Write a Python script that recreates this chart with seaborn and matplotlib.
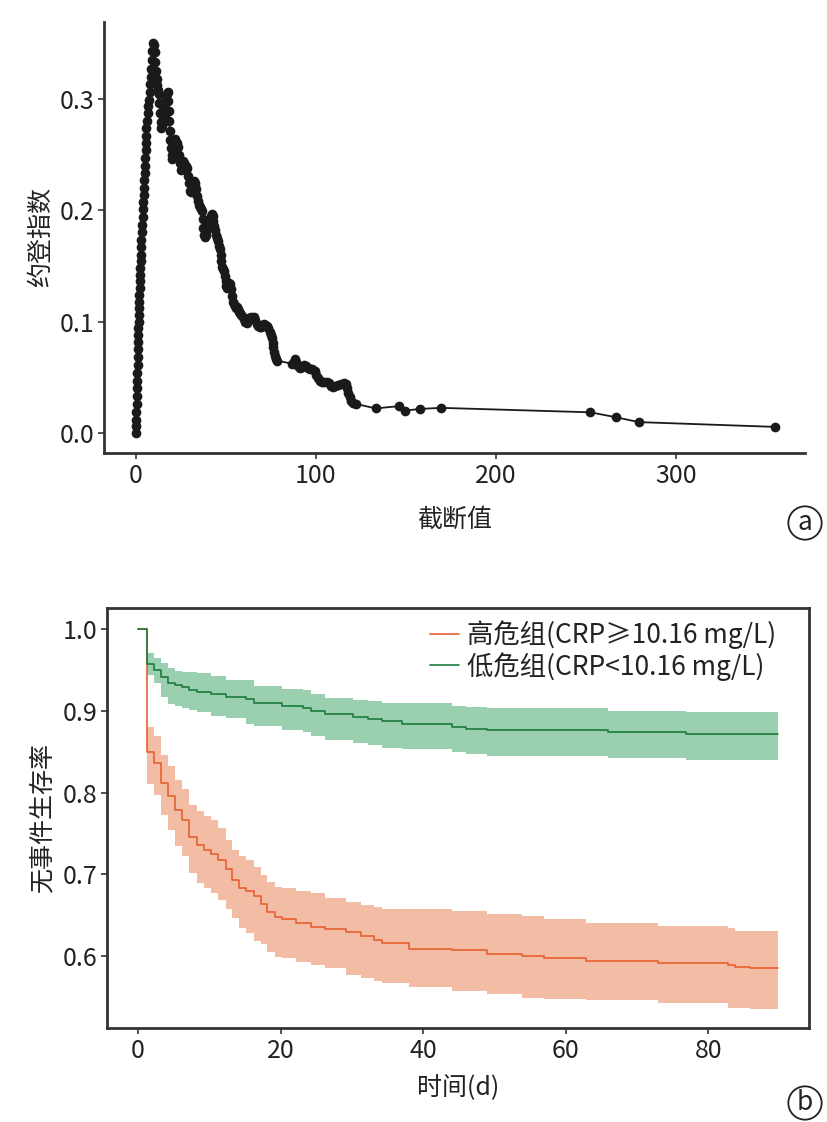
import numpy as np
import pandas as pd
import seaborn as sns
import matplotlib.pyplot as plt

# ---- panel a: Youden index vs cut-off ----
cutoff = [0.0, 0.0, 0.1, 0.2, 0.3, 0.4, 0.5, 0.6, 0.7, 0.8, 0.9, 1.0, 1.1, 1.2, 1.3, 1.4,
          1.52, 1.64, 1.76, 1.88, 2.0, 2.12, 2.24, 2.36, 2.48, 2.6, 2.8, 3.0, 3.2, 3.4, 3.6,
          3.8, 4.0, 4.2, 4.4, 4.57, 4.74, 4.91, 5.08, 5.25, 5.42, 5.59, 5.76, 5.9, 6.4, 6.9,
          7.3, 7.6, 7.9, 8.2, 8.5, 8.8, 9.1, 9.4, 9.7,
          10.3, 10.7, 11.1, 11.5, 11.9, 12.3, 12.7, 13.0, 13.3, 13.6, 13.9, 14.3, 14.7, 15.1,
          15.5, 15.9, 16.3, 16.7, 17.1, 17.5, 17.8, 18.1, 18.4, 18.7, 19.0, 19.4, 19.8, 20.2,
          20.6, 21.0, 21.5, 22.0, 22.5, 23.0, 23.5, 24.0, 24.5, 25.0, 25.5, 26.0, 26.5, 27.0,
          27.5, 28.0, 28.5, 29.0, 29.5, 30.0, 30.5, 31.0, 31.5, 32.0, 32.5, 33.0, 33.5, 34.0,
          34.5, 35.0, 35.5, 36.0, 36.5, 37.0, 37.4, 37.8, 38.2, 38.6, 39.0, 39.5, 40.0, 40.5,
          41.0, 41.5, 42.0, 42.5, 43.0, 43.5, 44.0, 44.5, 45.0, 45.5, 46.0, 46.5, 47.0, 47.4,
          47.8, 48.2, 48.7, 49.2, 49.7, 50.2, 50.7, 51.2, 51.7, 52.2, 52.7, 53.2, 53.7, 54.2,
          54.8, 55.4, 56.0, 56.6, 57.2, 57.8, 58.5, 59.2, 59.9, 60.6, 61.4, 62.2, 63.0, 63.8,
          64.6, 65.4, 66.2, 67.0, 67.8, 68.6, 69.4, 70.2, 71.0, 71.8, 72.6, 73.4, 74.2, 74.9,
          75.5, 75.9, 76.3, 76.7, 77.2, 77.7, 78.3,
          86.9, 87.6, 88.3, 88.9, 89.5, 90.3, 91.3, 92.3, 93.3, 94.3, 95.3, 96.5, 98.0, 99.2,
          100.2, 101.0, 102.0, 103.3, 104.6, 106.0, 107.4, 108.3, 109.3, 110.7, 112.3, 114.0,
          115.6, 116.7, 117.4, 118.0, 118.6, 119.3, 120.5, 122.3, 133.1, 146.0, 149.4, 157.5,
          169.3, 252.4, 266.6, 279.3, 355.1]
youden = [0.000, 0.006, 0.012, 0.019, 0.026, 0.033, 0.040, 0.047, 0.054, 0.061, 0.068, 0.075,
          0.082, 0.088, 0.094, 0.100, 0.106, 0.112, 0.118, 0.124, 0.130, 0.136, 0.142, 0.148,
          0.154, 0.160, 0.167, 0.173, 0.180, 0.187, 0.194, 0.201, 0.207, 0.214, 0.220, 0.227,
          0.233, 0.240, 0.247, 0.254, 0.260, 0.267, 0.274, 0.280, 0.287, 0.294, 0.299, 0.306,
          0.313, 0.320, 0.327, 0.335, 0.343, 0.350, 0.348,
          0.342, 0.333, 0.325, 0.318, 0.312, 0.308, 0.304, 0.296, 0.287, 0.279, 0.274, 0.276,
          0.279, 0.281, 0.283, 0.286, 0.292, 0.299, 0.304, 0.306, 0.298, 0.289, 0.280, 0.271,
          0.263, 0.256, 0.250, 0.246, 0.253, 0.260, 0.264, 0.261, 0.258, 0.260, 0.257, 0.250,
          0.242, 0.236, 0.240, 0.244, 0.242, 0.238, 0.236, 0.240, 0.238, 0.231, 0.224, 0.217,
          0.216, 0.220, 0.224, 0.226, 0.224, 0.222, 0.219, 0.213, 0.208, 0.205, 0.203, 0.201,
          0.199, 0.192, 0.184, 0.178, 0.176, 0.178, 0.181, 0.184, 0.186, 0.188, 0.191, 0.195,
          0.197, 0.195, 0.190, 0.186, 0.182, 0.178, 0.175, 0.172, 0.168, 0.165, 0.160, 0.154,
          0.149, 0.147, 0.145, 0.141, 0.136, 0.132, 0.130, 0.132, 0.135, 0.134, 0.129, 0.123,
          0.118, 0.116, 0.114, 0.112, 0.113, 0.111, 0.109, 0.108, 0.106, 0.104, 0.102, 0.100,
          0.099, 0.101, 0.103, 0.104, 0.103, 0.104, 0.101, 0.098, 0.096, 0.095, 0.095, 0.097,
          0.098, 0.097, 0.096, 0.094, 0.091, 0.088, 0.085, 0.081, 0.077, 0.073, 0.069, 0.066,
          0.065,
          0.062, 0.064, 0.066, 0.064, 0.061, 0.059, 0.058, 0.059, 0.061, 0.060, 0.058, 0.057,
          0.057, 0.056, 0.052, 0.049, 0.047, 0.046, 0.046, 0.046, 0.045, 0.042, 0.041, 0.042,
          0.043, 0.044, 0.045, 0.044, 0.040, 0.036, 0.032, 0.029, 0.027, 0.026, 0.022, 0.024,
          0.020, 0.0215, 0.0225, 0.0185, 0.0141, 0.0097, 0.0054]

# ---- panel b: Kaplan-Meier curves with confidence bands ----
high_t = [0, 1.2, 2.2, 3.2, 4.2, 5.2, 6.2, 7.2, 8.3, 9.2, 10.2, 11.2, 12.3, 13.2, 14.2, 15.2,
          16.2, 17.2, 18.1, 19.2, 20.2, 22.2, 24.2, 26.2, 29.2, 31.3, 33.1, 34.2, 38.0, 44.0,
          49.0, 53.9, 57.0, 62.9, 73.0, 82.8, 83.7, 85.8, 89.8]
high_s = [1.0, 0.849, 0.836, 0.812, 0.796, 0.779, 0.766, 0.745, 0.736, 0.730, 0.725, 0.717,
          0.706, 0.693, 0.683, 0.679, 0.673, 0.664, 0.654, 0.648, 0.645, 0.640, 0.636, 0.633,
          0.630, 0.624, 0.620, 0.616, 0.609, 0.607, 0.603, 0.600, 0.597, 0.594, 0.592, 0.589,
          0.587, 0.585, 0.585]
high_hi = [1.0, 0.880, 0.869, 0.846, 0.832, 0.815, 0.804, 0.785, 0.777, 0.771, 0.766, 0.757,
           0.742, 0.730, 0.722, 0.717, 0.709, 0.699, 0.691, 0.685, 0.683, 0.679, 0.677, 0.671,
           0.666, 0.662, 0.660, 0.658, 0.658, 0.655, 0.652, 0.649, 0.645, 0.641, 0.637, 0.634,
           0.631, 0.631, 0.631]
high_lo = [1.0, 0.810, 0.797, 0.772, 0.754, 0.735, 0.722, 0.701, 0.689, 0.683, 0.677, 0.669,
           0.658, 0.646, 0.634, 0.628, 0.618, 0.615, 0.605, 0.599, 0.597, 0.593, 0.589, 0.585,
           0.577, 0.573, 0.570, 0.567, 0.5625, 0.5576, 0.5535, 0.549, 0.548, 0.546, 0.542,
           0.537, 0.537, 0.535, 0.535]

low_t = [0, 1.2, 2.2, 3.2, 4.2, 5.2, 6.2, 7.2, 8.3, 10.2, 12.3, 15.2, 16.2, 20.2, 23.2, 24.2,
         26.2, 30.2, 32.2, 34.2, 37.1, 44.0, 46.0, 49.0, 65.9, 76.9, 89.8]
low_s = [1.0, 0.957, 0.950, 0.941, 0.934, 0.931, 0.929, 0.925, 0.923, 0.920, 0.917, 0.914,
         0.909, 0.906, 0.904, 0.900, 0.896, 0.892, 0.890, 0.887, 0.884, 0.880, 0.878, 0.876,
         0.874, 0.872, 0.872]
low_hi = [1.0, 0.971, 0.965, 0.958, 0.952, 0.949, 0.948, 0.947, 0.946, 0.943, 0.938, 0.938,
          0.930, 0.927, 0.926, 0.921, 0.916, 0.913, 0.912, 0.910, 0.909, 0.906, 0.905, 0.903,
          0.900, 0.898, 0.898]
low_lo = [1.0, 0.944, 0.934, 0.917, 0.908, 0.906, 0.904, 0.901, 0.898, 0.894, 0.891, 0.884,
          0.881, 0.876, 0.874, 0.869, 0.864, 0.860, 0.858, 0.854, 0.853, 0.850, 0.847, 0.845,
          0.842, 0.840, 0.840]

high_label = '高危组(CRP≥10.16 mg/L)'
low_label = '低危组(CRP<10.16 mg/L)'

sns.set_style('ticks')
plt.rcParams['font.family'] = ['Noto Sans CJK SC', 'DejaVu Sans']
plt.rcParams['axes.unicode_minus'] = False

spine_col = '#333333'
txt_col = '#222222'

fig = plt.figure(figsize=(8.27, 11.22), dpi=100)
ax1 = fig.add_axes([0.1258, 0.5963, 0.8476, 0.3841])
ax2 = fig.add_axes([0.1294, 0.0838, 0.8486, 0.3743])

# panel a
df_a = pd.DataFrame({'cutoff': cutoff, 'youden': youden})
sns.lineplot(data=df_a, x='cutoff', y='youden', ax=ax1, estimator=None, sort=False,
             color='#1a1a1a', linewidth=1.3, marker='o', markersize=7,
             markeredgewidth=0, markerfacecolor='#1a1a1a')
ax1.set_xlim(-17.8, 371.7)
ax1.set_ylim(-0.018, 0.369)
ax1.set_xticks([0, 100, 200, 300])
ax1.set_yticks([0.0, 0.1, 0.2, 0.3])
ax1.set_yticklabels(['0.0', '0.1', '0.2', '0.3'])
ax1.set_xlabel('截断值', fontsize=18, color=txt_col, labelpad=13)
ax1.set_ylabel('约登指数', fontsize=18, color=txt_col, labelpad=4)
sns.despine(ax=ax1)
for s in ['left', 'bottom']:
    ax1.spines[s].set_linewidth(2.0)
    ax1.spines[s].set_color(spine_col)
ax1.tick_params(axis='both', labelsize=18, colors=txt_col, length=4, width=1.2,
                color=spine_col, pad=3)

# panel b
orange_line = '#e5602f'
orange_fill = '#f2b196'
green_line = '#1e7b3c'
green_fill = '#8fcba6'

ax2.fill_between(high_t, high_lo, high_hi, step='post', color=orange_fill, alpha=0.85,
                 linewidth=0)
ax2.fill_between(low_t, low_lo, low_hi, step='post', color=green_fill, alpha=0.9,
                 linewidth=0)
df_h = pd.DataFrame({'t': high_t, 's': high_s})
df_l = pd.DataFrame({'t': low_t, 's': low_s})
sns.lineplot(data=df_h, x='t', y='s', ax=ax2, estimator=None, drawstyle='steps-post',
             color=orange_line, linewidth=1.2, label=high_label)
sns.lineplot(data=df_l, x='t', y='s', ax=ax2, estimator=None, drawstyle='steps-post',
             color=green_line, linewidth=1.2, label=low_label)
ax2.set_xlim(-4.35, 94.1)
ax2.set_ylim(0.512, 1.0257)
ax2.set_xticks([0, 20, 40, 60, 80])
ax2.set_yticks([0.6, 0.7, 0.8, 0.9, 1.0])
ax2.set_yticklabels(['0.6', '0.7', '0.8', '0.9', '1.0'])
ax2.set_xlabel('时间(d)', fontsize=18, color=txt_col, labelpad=8)
ax2.set_ylabel('无事件生存率', fontsize=18, color=txt_col, labelpad=5)
for s in ax2.spines.values():
    s.set_linewidth(2.0)
    s.set_color(spine_col)
ax2.tick_params(axis='both', labelsize=18, colors=txt_col, length=4, width=1.2,
                color=spine_col, pad=3)
leg = ax2.legend(loc='upper right', bbox_to_anchor=(0.968, 0.995), frameon=False,
                 fontsize=19, handlelength=1.1, handletextpad=0.3, borderaxespad=0.0,
                 labelspacing=0.1)
for t in leg.get_texts():
    t.set_color(txt_col)

# panel letters
for ypos, letter in [(1 - 523 / 1122, 'a'), (1 - 1103 / 1122, 'b')]:
    fig.text(805 / 827, ypos, letter, fontsize=19, ha='center', va='center', color=txt_col,
             bbox=dict(boxstyle='circle,pad=0.12', fc='white', ec=txt_col, lw=1.3))

fig.savefig('out.png', dpi=100)
